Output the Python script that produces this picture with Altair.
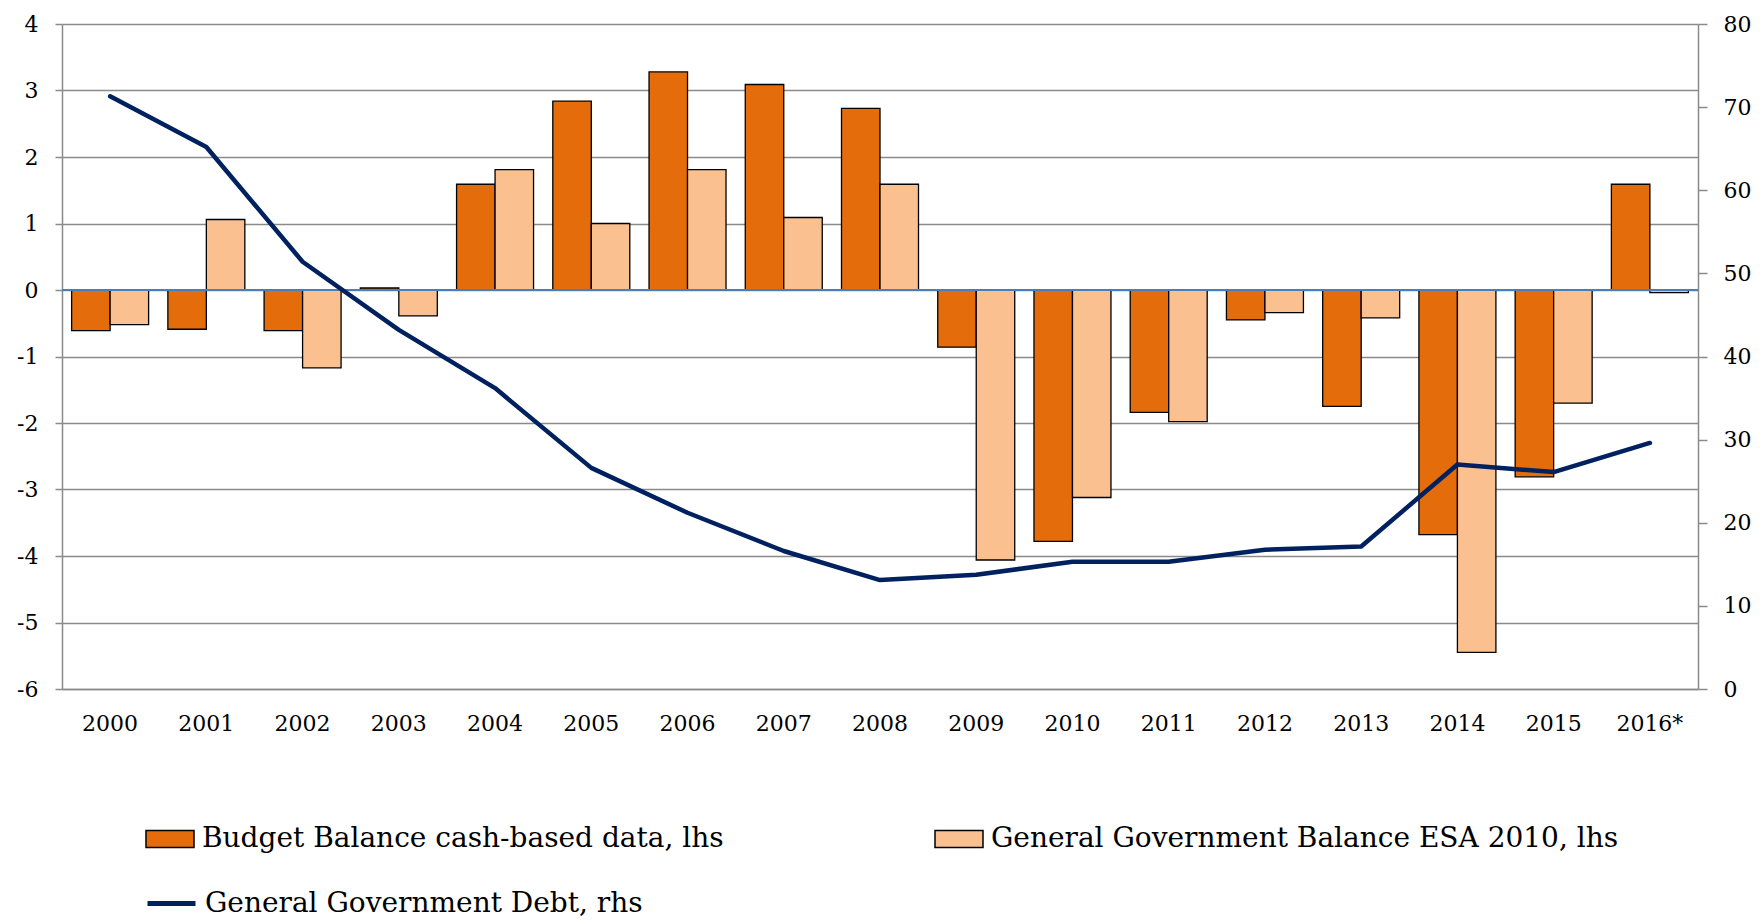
import altair as alt
import pandas as pd

years = ["2000", "2001", "2002", "2003", "2004", "2005", "2006", "2007", "2008",
         "2009", "2010", "2011", "2012", "2013", "2014", "2015", "2016*"]
cash_balance = [-0.61, -0.59, -0.61, 0.03, 1.59, 2.84, 3.28, 3.09, 2.73,
                -0.86, -3.78, -1.84, -0.45, -1.75, -3.68, -2.81, 1.59]
esa_balance = [-0.52, 1.06, -1.17, -0.39, 1.81, 1.00, 1.81, 1.09, 1.59,
               -4.06, -3.12, -1.98, -0.34, -0.42, -5.45, -1.70, -0.04]
debt = [71.3, 65.2, 51.4, 43.2, 36.2, 26.6, 21.2, 16.6, 13.1,
        13.75, 15.3, 15.3, 16.75, 17.15, 27.0, 26.1, 29.6]

S1 = "Budget Balance cash-based data, lhs"
S2 = "General Government Balance ESA 2010, lhs"
S3 = "General Government Debt, rhs"

ORANGE = "#E46C0A"
PEACH = "#FAC090"
NAVY = "#00215F"
GRID = "#8A8A8A"
FONT = "DejaVu Serif"

bars = pd.DataFrame(
    [{"year": y, "series": S1, "value": v} for y, v in zip(years, cash_balance)]
    + [{"year": y, "series": S2, "value": v} for y, v in zip(years, esa_balance)]
)
line_df = pd.DataFrame({"year": years, "debt": debt, "series": [S3] * len(years)})

x_enc = alt.X(
    "year:N", sort=years, title=None,
    scale=alt.Scale(domain=years, paddingInner=0.2, paddingOuter=0.1),
    axis=alt.Axis(labelAngle=0, ticks=False, labelPadding=24, domainColor=GRID,
                  domainWidth=1.5, grid=False),
)
left_axis = alt.Axis(values=list(range(-6, 5)), labelExpr="'' + datum.value",
                     tickSize=7, labelPadding=17,
                     grid=True, gridColor=GRID, gridWidth=1.3, domainColor=GRID,
                     domainWidth=1.5, tickColor=GRID, tickWidth=1.5)
y_left = alt.Y("value:Q", title=None, scale=alt.Scale(domain=[-6, 4], nice=False, zero=False),
               axis=left_axis)
xoff = alt.XOffset("series:N", scale=alt.Scale(domain=[S1, S2], paddingInner=0, paddingOuter=0))

sym_rect = "M-1,-0.354H1V0.354H-1Z"


def bar_layer(name, color, lx):
    return alt.Chart(bars).transform_filter(alt.datum.series == name).mark_bar(
        stroke="black", strokeWidth=1.3
    ).encode(
        x=x_enc,
        xOffset=xoff,
        y=y_left,
        fill=alt.Fill("series:N", scale=alt.Scale(domain=[name], range=[color]),
                      legend=alt.Legend(orient="none", legendX=lx, legendY=790, title=None,
                                        symbolType=sym_rect, symbolSize=2304,
                                        symbolStrokeColor="black", symbolStrokeWidth=1.5,
                                        labelOffset=7, padding=0)),
    )


b1 = bar_layer(S1, ORANGE, 83)
b2 = bar_layer(S2, PEACH, 872)
zero = alt.Chart(bars).mark_rule(color="#4A7EBB", strokeWidth=2).encode(y=alt.datum(0))

left = alt.layer(b1, b2, zero).resolve_scale(fill="independent")

line = alt.Chart(line_df).mark_line(color=NAVY, strokeWidth=4.5, strokeCap="round",
                                    strokeJoin="round").encode(
    x=x_enc,
    y=alt.Y("debt:Q", title=None, scale=alt.Scale(domain=[0, 80], nice=False, zero=True),
            axis=alt.Axis(orient="right", values=list(range(0, 81, 10)),
                          labelExpr="'' + datum.value",
                          grid=False, tickSize=9, labelPadding=16, domainColor=GRID,
                          domainWidth=1.5, tickColor=GRID, tickWidth=1.5)),
    stroke=alt.Stroke("series:N", scale=alt.Scale(domain=[S3], range=[NAVY]),
                      legend=alt.Legend(orient="none", legendX=83, legendY=853, title=None,
                                        symbolType="stroke", symbolSize=2304,
                                        symbolStrokeWidth=5, labelOffset=7, padding=0)),
)

chart = alt.layer(left, line).resolve_scale(y="independent").properties(
    width=1636, height=665,
    autosize=alt.AutoSizeParams(type="none"),
    padding={"left": 54, "top": 16, "right": 54, "bottom": 232},
).configure_view(stroke=None).configure_axis(
    labelFont=FONT, labelFontSize=22, labelColor="black"
).configure_legend(
    labelFont=FONT, labelFontSize=28, labelColor="black", labelLimit=0
)

chart.save("out.html", embed_options={"renderer": "svg", "actions": False})
